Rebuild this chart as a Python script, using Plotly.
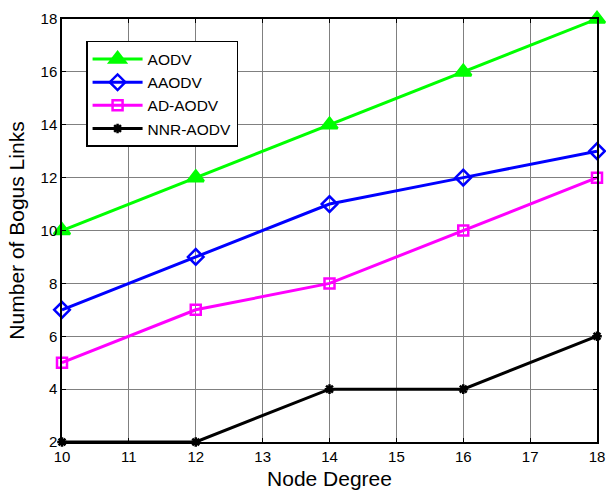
import plotly.graph_objects as go

node_degree = [10, 12, 14, 16, 18]
aodv = [10, 12, 14, 16, 18]
aaodv = [7, 9, 11, 12, 13]
ad_aodv = [5, 7, 8, 10, 12]
nnr_aodv = [2, 2, 4, 4, 6]

x_ticks = list(range(10, 19))
y_ticks = list(range(2, 19, 2))

FONT = "Liberation Sans, Arial, sans-serif"

series = [
    ("AODV", aodv, "#00FF00", "triangle-up", 14),
    ("AAODV", aaodv, "#0000FF", "diamond-open", 12),
    ("AD-AODV", ad_aodv, "#FF00FF", "square-open", 10),
    ("NNR-AODV", nnr_aodv, "#000000", "asterisk-open", 8),
]

fig = go.Figure()
for name, ys, color, sym, size in series:
    fig.add_trace(go.Scatter(
        x=node_degree, y=ys, name=name, mode="lines+markers",
        line=dict(color=color, width=3),
        marker=dict(symbol=sym, size=size, color=color, line=dict(color=color, width=2.5)),
        cliponaxis=False,
    ))

axis_common = dict(
    showgrid=True, gridcolor="#808080", gridwidth=1,
    showline=True, linecolor="black", linewidth=1.5, mirror="ticks",
    ticks="inside", ticklen=4, tickcolor="black",
    tickfont=dict(family=FONT, size=15, color="black"),
    zeroline=False, automargin=False,
)

fig.update_xaxes(range=[10, 18], tickvals=x_ticks,
                 title=dict(text="Node Degree", font=dict(family=FONT, size=21, color="black"), standoff=8),
                 **axis_common)
fig.update_yaxes(range=[2, 18], tickvals=y_ticks,
                 title=dict(text="Number of Bogus Links", font=dict(family=FONT, size=21, color="black"), standoff=10),
                 **axis_common)

fig.update_layout(
    width=606, height=492,
    margin=dict(l=62, r=9, t=19, b=50),
    paper_bgcolor="white", plot_bgcolor="white",
    showlegend=True,
    legend=dict(
        x=0.045, y=0.948, xanchor="left", yanchor="top",
        bgcolor="white", bordercolor="black", borderwidth=1.5,
        font=dict(family=FONT, size=15.5, color="black"),
        tracegroupgap=0, itemwidth=50,
    ),
)

fig.write_html("out.html")
